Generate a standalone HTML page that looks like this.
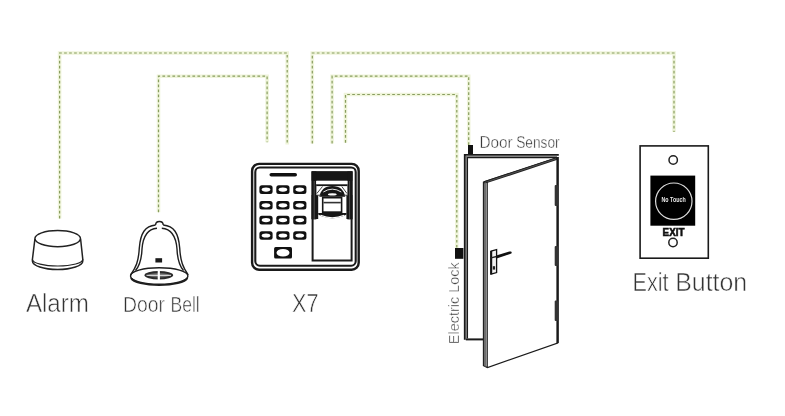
<!DOCTYPE html>
<html><head><meta charset="utf-8">
<style>
html,body{margin:0;padding:0;background:#fff;width:785px;height:416px;overflow:hidden;}
svg{display:block;position:absolute;left:0;top:0;will-change:transform;}
text{font-family:"Liberation Sans",sans-serif;}
.lbl{fill:#333;stroke:#fff;stroke-width:0.55px;paint-order:normal;}
.sm{stroke-width:0.4px;fill:#333;}
</style></head><body>
<svg width="785" height="416" viewBox="0 0 785 416">
<rect width="785" height="416" fill="#fff"/>
<!-- dashed wires -->
<g fill="none" stroke="#eff4da" stroke-width="3.6">
<path d="M59.6,218.5 V53 H287.2 V144.5"/>
<path d="M158.5,212.3 V76.2 H267.1 V142.2"/>
<path d="M312.3,143.5 V53 H674 V132"/>
<path d="M332.1,143.5 V76.2 H468.7 V145"/>
<path d="M345.5,142.8 V94.5 H456.8 V248"/>
</g>
<g fill="none" stroke="#889d5e" stroke-width="1.2" stroke-dasharray="2.7 2.3">
<path d="M59.6,218.5 V53 H287.2 V144.5"/>
<path d="M158.5,212.3 V76.2 H267.1 V142.2"/>
<path d="M312.3,143.5 V53 H674 V132"/>
<path d="M332.1,143.5 V76.2 H468.7 V145"/>
<path d="M345.5,142.8 V94.5 H456.8 V248"/>
</g>

<!-- Alarm -->
<g fill="none" stroke="#222" stroke-width="1.5">
<ellipse cx="57.7" cy="238.6" rx="22.8" ry="8.1"/>
<path d="M34.9,239 L32.4,259.5 V261 A25.2,8.6 0 0 0 82.8,261 V259.3 L80.6,239"/>
<path d="M32.4,259.5 A25.2,6.6 0 0 0 82.8,259.3" stroke-width="1.2"/>
</g>
<!-- Door Bell -->
<g fill="none" stroke="#1e1e1e" stroke-width="1.4">
<path d="M155.6,225 C155.6,220.3 163.2,220.3 163.2,225"/>
<path d="M155.6,225 C145,226 140.5,233 139.3,248 C138.5,262 136,267 130.6,275 M163.2,225 C174,226 178.5,233 179.7,248 C180.5,262 183,267 188.2,275"/>
<path d="M157,228.3 C147.5,229 143,236 142,249 C141.5,261 139.5,266 135.5,270.5 M161.8,228.3 C171.5,229 176,236 177,249 C177.5,261 179.5,266 183.5,270.5"/>
<ellipse cx="159.2" cy="276" rx="28.7" ry="8.2"/>
<path d="M131,278 A28.5,8.4 0 0 0 187.4,278" stroke-width="1.8"/>
</g>
<ellipse cx="158.8" cy="275.3" rx="14.4" ry="4.2" fill="#2a2a2a"/>
<ellipse cx="158.8" cy="275.3" rx="11" ry="2.2" fill="#666"/>
<path d="M146.5,275.3 H171" stroke="#fff" stroke-width="0.9"/>
<path d="M158.8,270.5 V280" stroke="#fff" stroke-width="2.2"/>
<rect x="155.4" y="258.2" width="6.7" height="4.3" fill="#1a1a1a"/>

<!-- X7 device -->
<g fill="none" stroke="#1a1a1a">
<rect x="252.1" y="163.9" width="106.6" height="105.8" rx="7" stroke-width="2.4"/>
<rect x="255.3" y="167.5" width="100.4" height="98.2" rx="4.5" stroke-width="2.1"/>
</g>
<rect x="269.5" y="173" width="27.5" height="3.6" rx="1.8" fill="#111"/>
<g fill="#111">
<rect x="259.4" y="185.3" width="13.2" height="8.6" rx="2.5"/>
<rect x="276.3" y="185.3" width="13.2" height="8.6" rx="2.5"/>
<rect x="293.2" y="185.3" width="13.2" height="8.6" rx="2.5"/>
<rect x="259.4" y="201" width="13.2" height="8.6" rx="2.5"/>
<rect x="276.3" y="201" width="13.2" height="8.6" rx="2.5"/>
<rect x="293.2" y="201" width="13.2" height="8.6" rx="2.5"/>
<rect x="259.4" y="215.8" width="13.2" height="8.6" rx="2.5"/>
<rect x="276.3" y="215.8" width="13.2" height="8.6" rx="2.5"/>
<rect x="293.2" y="215.8" width="13.2" height="8.6" rx="2.5"/>
<rect x="259.4" y="231.2" width="13.2" height="8.6" rx="2.5"/>
<rect x="276.3" y="231.2" width="13.2" height="8.6" rx="2.5"/>
<rect x="293.2" y="231.2" width="13.2" height="8.6" rx="2.5"/>
<rect x="274.1" y="247.1" width="17.9" height="11.3" rx="1.5"/>
</g>
<g fill="#fff">
<ellipse cx="266" cy="189.6" rx="4.3" ry="2.1"/>
<ellipse cx="282.9" cy="189.6" rx="4.3" ry="2.1"/>
<ellipse cx="299.8" cy="189.6" rx="4.3" ry="2.1"/>
<ellipse cx="266" cy="205.3" rx="4.3" ry="2.1"/>
<ellipse cx="282.9" cy="205.3" rx="4.3" ry="2.1"/>
<ellipse cx="299.8" cy="205.3" rx="4.3" ry="2.1"/>
<ellipse cx="266" cy="220.1" rx="4.3" ry="2.1"/>
<ellipse cx="282.9" cy="220.1" rx="4.3" ry="2.1"/>
<ellipse cx="299.8" cy="220.1" rx="4.3" ry="2.1"/>
<ellipse cx="266" cy="235.5" rx="4.3" ry="2.1"/>
<ellipse cx="282.9" cy="235.5" rx="4.3" ry="2.1"/>
<ellipse cx="299.8" cy="235.5" rx="4.3" ry="2.1"/>
<ellipse cx="283" cy="252.7" rx="6.5" ry="3.8"/>
</g>
<!-- fingerprint panel -->
<rect x="312.6" y="172.3" width="39" height="88.2" fill="none" stroke="#1a1a1a" stroke-width="2"/>
<rect x="311.6" y="171.4" width="40.8" height="9.3" fill="#161616"/>
<rect x="311.6" y="171.4" width="4.8" height="48" fill="#161616"/>
<rect x="311.6" y="195" width="6.6" height="24" fill="#161616"/>
<rect x="347.4" y="171.4" width="5" height="48" fill="#161616"/>
<rect x="346.4" y="195" width="6" height="24" fill="#161616"/>
<rect x="316.2" y="181" width="31.2" height="3.3" fill="#fff"/>
<rect x="316.2" y="184.3" width="31.2" height="1.8" fill="#161616"/>
<path d="M319.3,196.8 C320.5,190 325,186 332.3,186 C339.6,186 344.1,190 345.3,196.8 Z" fill="#161616"/>
<path d="M316.8,193.5 L322.5,186.5 M347,193.5 L341.8,186.5" stroke="#444" stroke-width="1"/>
<path d="M316.6,195.2 H321 M343.6,195.2 H348" stroke="#444" stroke-width="1"/>
<path d="M323.3,192 Q332.3,186.3 341.3,192" fill="none" stroke="#fff" stroke-width="0.9"/>
<ellipse cx="332.3" cy="194.4" rx="4.4" ry="1.15" fill="#fff"/>
<rect x="321.9" y="196.6" width="20.5" height="16.6" fill="#161616"/>
<rect x="323.5" y="198.5" width="17.3" height="12.8" fill="#fff"/>
<rect x="323.5" y="201.8" width="17.3" height="1.6" fill="#333"/>
<path d="M318.2,213 H346.5 V214.5 Q332.3,222 318.2,214.5 Z" fill="#161616"/>
<path d="M320.5,215.3 Q332.3,220.3 344.2,215.3" fill="none" stroke="#fff" stroke-width="1.1"/>
<path d="M314.2,181 V219 M349.6,181 V219" stroke="#777" stroke-width="0.6"/>

<!-- Door -->
<rect x="468" y="145" width="5" height="9.6" fill="#111"/>
<rect x="455" y="248" width="8.4" height="10.8" fill="#111"/>
<g fill="none" stroke="#1a1a1a">
<path d="M464.8,339.8 V154.9 H558.8" stroke-width="1.9"/>
<path d="M467.3,338.5 V157.6 H557" stroke-width="1.5"/>
<path d="M465.8,339.4 H483.5" stroke-width="2"/>
</g>
<path d="M466.1,338.6 V156.2 H557" fill="none" stroke="#5a5a5a" stroke-width="0.9"/>
<path d="M483.5,182.2 L557.6,157.6 V343 L487.5,367.5 L483.5,365.5 Z" fill="#fff" stroke="#1a1a1a" stroke-width="1.3"/>
<path d="M557.6,157 V343" stroke="#1a1a1a" stroke-width="2.4"/>
<path d="M484.2,182.5 L557,158.5" stroke="#1f1f1f" stroke-width="2.8"/>
<path d="M484.5,182.6 L556,158.8" stroke="#6a6a6a" stroke-width="0.7"/>
<path d="M483.8,182 V365.5" stroke="#222" stroke-width="1.6"/>
<path d="M487.2,181.5 V367.2" stroke="#222" stroke-width="1.3"/>
<path d="M485.5,183 V366.5" stroke="#6f6f6f" stroke-width="1.6"/>
<g fill="#333">
<rect x="554.7" y="185" width="3.3" height="21" rx="1"/>
<rect x="554.7" y="246" width="3.3" height="20" rx="1"/>
<rect x="554.7" y="300.6" width="3.3" height="20.4" rx="1"/>
</g>
<!-- handle -->
<path d="M491,251.2 L496.6,249.7 V272.6 L491,274.1 Z" fill="#f2f2f2" stroke="#111" stroke-width="1.3"/>
<path d="M491.2,251 V274.3" stroke="#111" stroke-width="2"/>
<path d="M491,257.8 L496.6,256.5" stroke="#222" stroke-width="1.3"/>
<path d="M496.2,255.6 L509.3,251.6 C511.4,251 512.3,252.2 511.3,253.6 L496.6,258.6 Z" fill="#111"/>
<rect x="492.8" y="266.2" width="2.3" height="3.4" fill="#222"/>

<!-- Exit button -->
<rect x="640.1" y="145.9" width="68.2" height="112.3" fill="none" stroke="#1a1a1a" stroke-width="1.6"/>
<circle cx="673.2" cy="160" r="4.2" fill="none" stroke="#222" stroke-width="1.5"/>
<circle cx="673" cy="242.5" r="4.2" fill="none" stroke="#222" stroke-width="1.5"/>
<rect x="650.4" y="175.6" width="44.8" height="50.1" fill="#000"/>
<circle cx="673.8" cy="201.2" r="18.2" fill="none" stroke="#ddd" stroke-width="1.2"/>
<text x="661.5" y="202.4" font-size="6.6" font-weight="bold" fill="#e8e8e8" textLength="24.2" lengthAdjust="spacingAndGlyphs">No Touch</text>
<text x="662.6" y="235.6" font-size="10" font-weight="bold" fill="#111" stroke="#111" stroke-width="0.6" textLength="21.8" lengthAdjust="spacingAndGlyphs">EXIT</text>

<!-- Labels -->
<text class="lbl" x="25.9" y="311.7" font-size="26" textLength="63.1" lengthAdjust="spacingAndGlyphs">Alarm</text>
<text class="lbl" x="123" y="311.5" font-size="21.3" textLength="42" lengthAdjust="spacingAndGlyphs">Door</text>
<text class="lbl" x="170.5" y="311.5" font-size="21.3" textLength="29.2" lengthAdjust="spacingAndGlyphs">Bell</text>
<text class="lbl" x="292" y="311.7" font-size="25.8" textLength="26.5" lengthAdjust="spacingAndGlyphs">X7</text>
<text class="lbl" x="632.5" y="290.6" font-size="26.5" textLength="36" lengthAdjust="spacingAndGlyphs">Exit</text>
<text class="lbl" x="675.2" y="290.6" font-size="26.5" textLength="72" lengthAdjust="spacingAndGlyphs">Button</text>
<text class="lbl sm" x="479.4" y="147.9" font-size="15.6" textLength="33.2" lengthAdjust="spacingAndGlyphs">Door</text>
<text class="lbl sm" x="516.2" y="147.9" font-size="15.6" textLength="43.4" lengthAdjust="spacingAndGlyphs">Sensor</text>
<text class="lbl sm" x="0" y="0" font-size="14.9" textLength="82" lengthAdjust="spacingAndGlyphs" transform="translate(459,344.2) rotate(-90)">Electric Lock</text>
</svg>
</body></html>
